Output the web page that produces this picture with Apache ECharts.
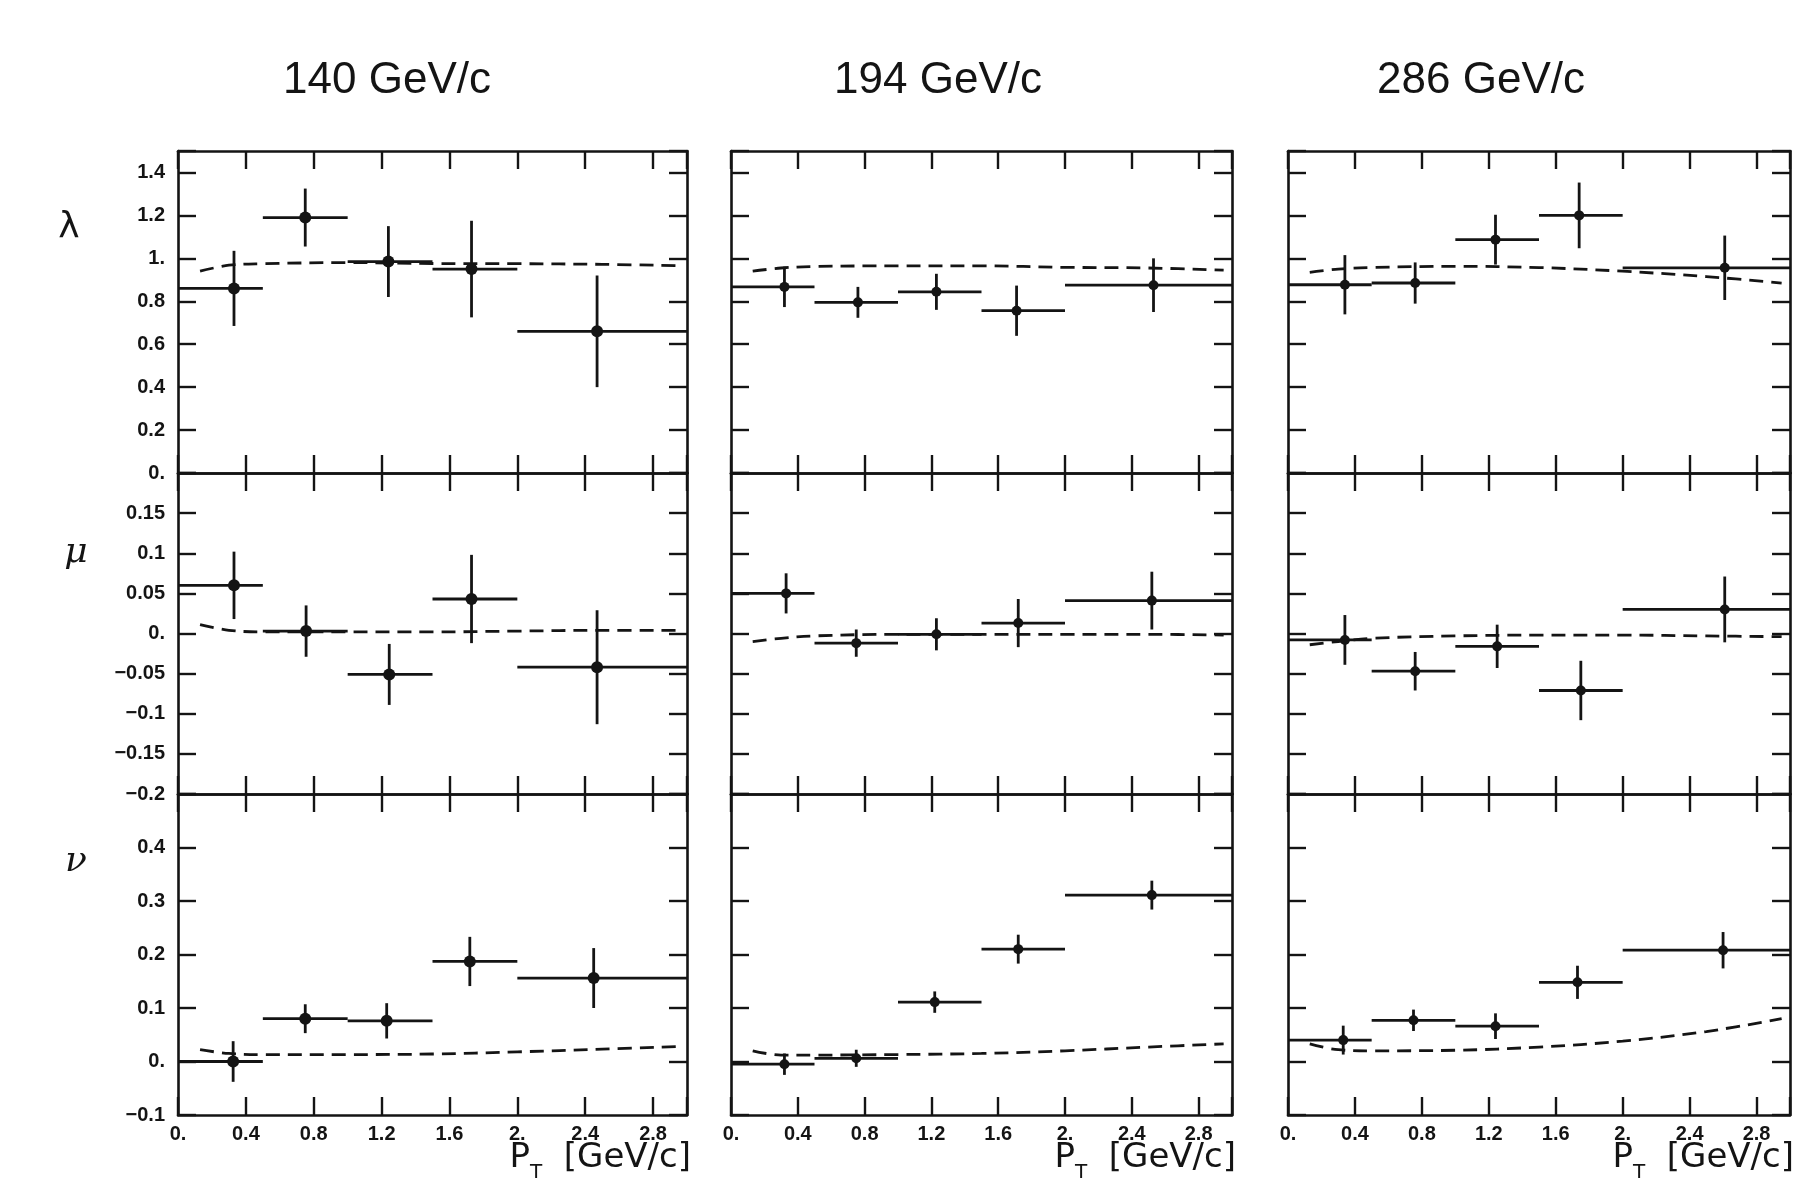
<!DOCTYPE html>
<html>
<head>
<meta charset="utf-8">
<script src="https://cdn.jsdelivr.net/npm/echarts@6/dist/echarts.min.js"></script>
<style>
  html, body { margin: 0; padding: 0; background: #ffffff; }
  #chart { width: 1806px; height: 1180px; }
</style>
</head>
<body>
<div id="chart"></div>
<script>
// ---------------- data ----------------
const energies = ['140 GeV/c', '194 GeV/c', '286 GeV/c'];
const paramNames = ['λ', 'μ', 'ν'];

// P_T bins (GeV/c)
const binLo = [0.0, 0.5, 1.0, 1.5, 2.0];
const binHi = [0.5, 1.0, 1.5, 2.0, 3.0];

// lambda
const lam140_pt  = [0.33, 0.75, 1.24, 1.73, 2.47];
const lam140     = [0.86, 1.19, 0.985, 0.95, 0.66];
const lam140_err = [0.175, 0.135, 0.165, 0.225, 0.26];
const lam194_pt  = [0.32, 0.76, 1.23, 1.71, 2.53];
const lam194     = [0.867, 0.795, 0.844, 0.756, 0.875];
const lam194_err = [0.094, 0.072, 0.084, 0.117, 0.125];
const lam286_pt  = [0.34, 0.76, 1.24, 1.74, 2.61];
const lam286     = [0.877, 0.885, 1.087, 1.20, 0.956];
const lam286_err = [0.138, 0.096, 0.116, 0.153, 0.15];

// mu
const mu140_pt  = [0.33, 0.755, 1.245, 1.73, 2.47];
const mu140     = [0.060, 0.003, -0.051, 0.043, -0.042];
const mu140_err = [0.042, 0.032, 0.038, 0.055, 0.071];
const mu194_pt  = [0.33, 0.75, 1.23, 1.72, 2.52];
const mu194     = [0.050, -0.012, -0.001, 0.013, 0.041];
const mu194_err = [0.025, 0.017, 0.020, 0.030, 0.036];
const mu286_pt  = [0.34, 0.76, 1.25, 1.75, 2.61];
const mu286     = [-0.008, -0.047, -0.016, -0.071, 0.030];
const mu286_err = [0.031, 0.024, 0.027, 0.037, 0.041];

// nu
const nu140_pt  = [0.325, 0.75, 1.23, 1.72, 2.45];
const nu140     = [0.000, 0.080, 0.076, 0.187, 0.156];
const nu140_err = [0.038, 0.027, 0.033, 0.046, 0.056];
const nu194_pt  = [0.32, 0.75, 1.22, 1.72, 2.52];
const nu194     = [-0.005, 0.006, 0.111, 0.210, 0.311];
const nu194_err = [0.020, 0.016, 0.020, 0.027, 0.027];
const nu286_pt  = [0.33, 0.75, 1.24, 1.73, 2.60];
const nu286     = [0.040, 0.077, 0.066, 0.148, 0.208];
const nu286_err = [0.027, 0.020, 0.024, 0.031, 0.034];

// model curves (dashed)
const fitPt      = [0.13, 0.3, 0.5, 1.0, 1.5, 2.0, 2.5, 2.95];
const lam140_fit = [0.94, 0.968, 0.975, 0.98, 0.976, 0.975, 0.972, 0.966];
const lam194_fit = [0.94, 0.955, 0.962, 0.965, 0.965, 0.958, 0.955, 0.945];
const lam286_fit = [0.935, 0.95, 0.957, 0.963, 0.957, 0.94, 0.915, 0.885];
const mu140_fit  = [0.011, 0.004, 0.002, 0.002, 0.002, 0.003, 0.004, 0.004];
const mu194_fit  = [-0.010, -0.006, -0.003, -0.001, -0.001, -0.001, -0.001, -0.002];
const mu286_fit  = [-0.014, -0.010, -0.006, -0.003, -0.002, -0.002, -0.003, -0.004];
const nu140_fit  = [0.022, 0.015, 0.013, 0.013, 0.014, 0.018, 0.023, 0.028];
const nu194_fit  = [0.020, 0.012, 0.012, 0.013, 0.015, 0.020, 0.027, 0.033];
const nu286_fit  = [0.033, 0.022, 0.020, 0.021, 0.027, 0.038, 0.056, 0.080];

// y-axis ranges per row
const yMin = [0, -0.2, -0.1];
const yMax = [1.5, 0.2, 0.5];
const yStep = [0.2, 0.05, 0.1];

// ---------------- assembly ----------------
const panels = [
  [[lam140_pt, lam140, lam140_err, lam140_fit], [lam194_pt, lam194, lam194_err, lam194_fit], [lam286_pt, lam286, lam286_err, lam286_fit]],
  [[mu140_pt, mu140, mu140_err, mu140_fit], [mu194_pt, mu194, mu194_err, mu194_fit], [mu286_pt, mu286, mu286_err, mu286_fit]],
  [[nu140_pt, nu140, nu140_err, nu140_fit], [nu194_pt, nu194, nu194_err, nu194_fit], [nu286_pt, nu286, nu286_err, nu286_fit]]
];

const INK = '#141414';
const colLeft = [178, 731, 1288];
const colWidth = [509, 501, 502];
const rowTop = [151, 473, 794];
const rowHeight = [322, 321, 321];
const TICK = 18;
const dotR = [6, 5, 5];

function fmtNum(v) {
  const r = +v.toFixed(3);
  let s;
  if (Math.abs(r) < 1e-9) s = '0.';
  else if (Number.isInteger(r)) s = r + '.';
  else s = String(r);
  return s.replace('-', '\u2212');
}

const grids = [], xAxes = [], yAxes = [], series = [];
for (let r = 0; r < 3; r++) {
  for (let c = 0; c < 3; c++) {
    const g = grids.length;
    grids.push({ left: colLeft[c], top: rowTop[r], width: colWidth[c], height: rowHeight[r], show: false });
    const axLine = { show: true, onZero: false, lineStyle: { color: INK, width: 2.6 } };
    const axTick = { show: true, inside: true, length: TICK, lineStyle: { color: INK, width: 2.4 } };
    ['bottom', 'top'].forEach(pos => {
      xAxes.push({
        gridIndex: g, type: 'value', position: pos, min: 0, max: 3, interval: 0.4,
        axisLine: axLine, axisTick: axTick, splitLine: { show: false },
        axisLabel: {
          show: (r === 2 && pos === 'bottom'), margin: 9, showMinLabel: true, hideOverlap: false,
          color: INK, fontFamily: 'Liberation Sans', fontWeight: 'bold', fontSize: 20,
          formatter: v => (v > 2.9 ? '' : fmtNum(v))
        }
      });
    });
    ['left', 'right'].forEach(pos => {
      yAxes.push({
        gridIndex: g, type: 'value', position: pos, min: yMin[r], max: yMax[r], interval: yStep[r],
        axisLine: axLine, axisTick: axTick, splitLine: { show: false },
        axisLabel: {
          show: (c === 0 && pos === 'left'), margin: 13, showMinLabel: true, hideOverlap: false,
          color: INK, fontFamily: 'Liberation Sans', fontWeight: 'bold', fontSize: 20,
          formatter: v => (Math.abs(v - yMax[r]) < 1e-9 ? '' : fmtNum(v))
        }
      });
    });
    const [pts, vals, errs, fit] = panels[r][c];
    const xi = g * 2, yi = g * 2;
    const rad = dotR[c];
    series.push({
      type: 'line', xAxisIndex: xi, yAxisIndex: yi, smooth: 0.35, showSymbol: false, silent: true,
      lineStyle: { color: INK, width: 2.8, type: [14, 8] },
      data: fitPt.map((x, i) => [x, fit[i]]), z: 2
    });
    series.push({
      type: 'custom', xAxisIndex: xi, yAxisIndex: yi, silent: true, z: 3,
      data: pts.map((x, i) => [x, vals[i], binLo[i], binHi[i], errs[i]]),
      renderItem: function (params, api) {
        const x = api.value(0), y = api.value(1), lo = api.value(2), hi = api.value(3), e = api.value(4);
        const cpt = api.coord([x, y]);
        const L = api.coord([lo, y]), R = api.coord([hi, y]);
        const T = api.coord([x, y + e]), B = api.coord([x, y - e]);
        const st = { stroke: INK, lineWidth: 2.8 };
        return {
          type: 'group', children: [
            { type: 'line', shape: { x1: L[0], y1: L[1], x2: R[0], y2: R[1] }, style: st },
            { type: 'line', shape: { x1: T[0], y1: T[1], x2: B[0], y2: B[1] }, style: st },
            { type: 'circle', shape: { cx: cpt[0], cy: cpt[1], r: rad }, style: { fill: INK } }
          ]
        };
      }
    });
  }
}

const titleCenters = [387, 938, 1481];
const greekPos = [[69, 228], [76, 553], [76, 862]];
const graphics = [];
energies.forEach((t, c) => {
  graphics.push({
    type: 'text', x: titleCenters[c], y: 81,
    style: { text: t, fontSize: 44, fontFamily: 'Liberation Sans', fill: INK, align: 'center', verticalAlign: 'middle' }
  });
  graphics.push({
    type: 'text', x: colLeft[c] + colWidth[c] + 4, y: 1158,
    style: {
      text: '{m|P}{s|T}{m|  [GeV/c]}', align: 'right', verticalAlign: 'middle', fill: INK,
      rich: {
        m: { fontSize: 34, fontFamily: 'DejaVu Sans', lineHeight: 50, verticalAlign: 'middle', fill: INK },
        s: { fontSize: 20, fontFamily: 'DejaVu Sans', lineHeight: 20, verticalAlign: 'bottom', fill: INK, padding: [0, 0, 0, 0] }
      }
    }
  });
});
paramNames.forEach((p, r) => {
  graphics.push({
    type: 'text', x: greekPos[r][0], y: greekPos[r][1],
    style: {
      text: p, fontSize: 36, fontFamily: r === 0 ? 'DejaVu Sans' : 'DejaVu Serif',
      fontStyle: r === 0 ? 'normal' : 'italic', fill: INK, align: 'center', verticalAlign: 'middle'
    }
  });
});

const chart = echarts.init(document.getElementById('chart'), null, { renderer: 'canvas' });
chart.setOption({
  backgroundColor: '#ffffff',
  animation: false,
  grid: grids,
  xAxis: xAxes,
  yAxis: yAxes,
  series: series,
  graphic: graphics
});
</script>
</body>
</html>
